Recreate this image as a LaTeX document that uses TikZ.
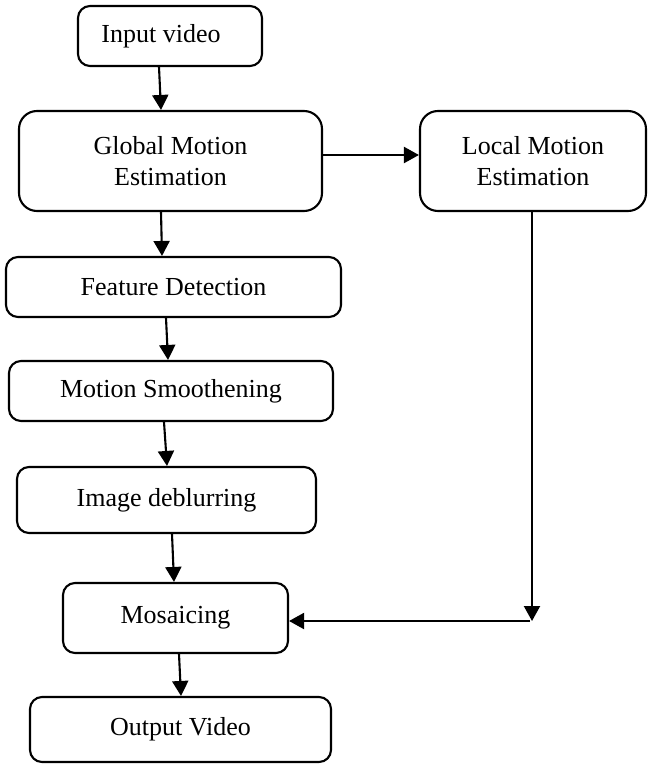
\documentclass[tikz,border=0pt]{standalone}
\usepackage{fontspec}
\setmainfont{Liberation Serif}
\usetikzlibrary{arrows.meta}
\begin{document}
\begin{tikzpicture}[x=1pt,y=-1pt,
  box/.style={draw, line width=2.1pt, rounded corners=12pt, inner sep=0pt,
              align=center, font=\fontsize{26}{31}\selectfont},
  bigbox/.style={box, rounded corners=18pt},
  arr/.style={line width=2.1pt, -{Triangle[length=15pt,width=16pt]}}]
\useasboundingbox (0,0) rectangle (654,765);

% processing stages
\node[box, minimum width=184pt, minimum height=60pt] (in) at (170,36) {Input video\hspace*{18pt}};
\node[bigbox, minimum width=303pt, minimum height=100pt] (gme) at (170.5,161) {Global Motion\\Estimation};
\node[bigbox, minimum width=226pt, minimum height=100pt] (lme) at (533,161) {Local Motion\\Estimation};
\node[box, minimum width=335pt, minimum height=60pt] (fd) at (173.5,287) {Feature Detection};
\node[box, minimum width=324pt, minimum height=60pt] (ms) at (171,391) {Motion Smoothening};
\node[box, minimum width=299pt, minimum height=66pt] (id) at (166.5,500) {Image deblurring};
\node[box, minimum width=225pt, minimum height=70pt] (mo) at (175.5,618) {Mosaicing};
\node[box, minimum width=301pt, minimum height=65pt] (ov) at (180.5,729.5) {Output Video};

% main chain
\draw[arr] ([xshift=-11pt]in.south) -- ([xshift=-9.5pt]gme.north);
\draw[arr] ([yshift=6pt]gme.east) -- ([yshift=6pt]lme.west);
\draw[arr] ([xshift=-9.5pt]gme.south) -- ([xshift=-11.5pt]fd.north);
\draw[arr] ([xshift=-7.5pt]fd.south) -- ([xshift=-3pt]ms.north);
\draw[arr] ([xshift=-7pt]ms.south) -- ([xshift=0.5pt]id.north);
\draw[arr] ([xshift=5.5pt]id.south) -- ([xshift=-1.5pt]mo.north);
\draw[arr] ([xshift=3.5pt]mo.south) -- ([xshift=0.5pt]ov.north);

% local motion branch back into mosaicing
\coordinate (turn) at (532,621);
\draw[arr] ([xshift=-1pt]lme.south) -- (turn);
\draw[arr] ([xshift=-2pt]turn) -- (mo.east |- turn);
\end{tikzpicture}
\end{document}
